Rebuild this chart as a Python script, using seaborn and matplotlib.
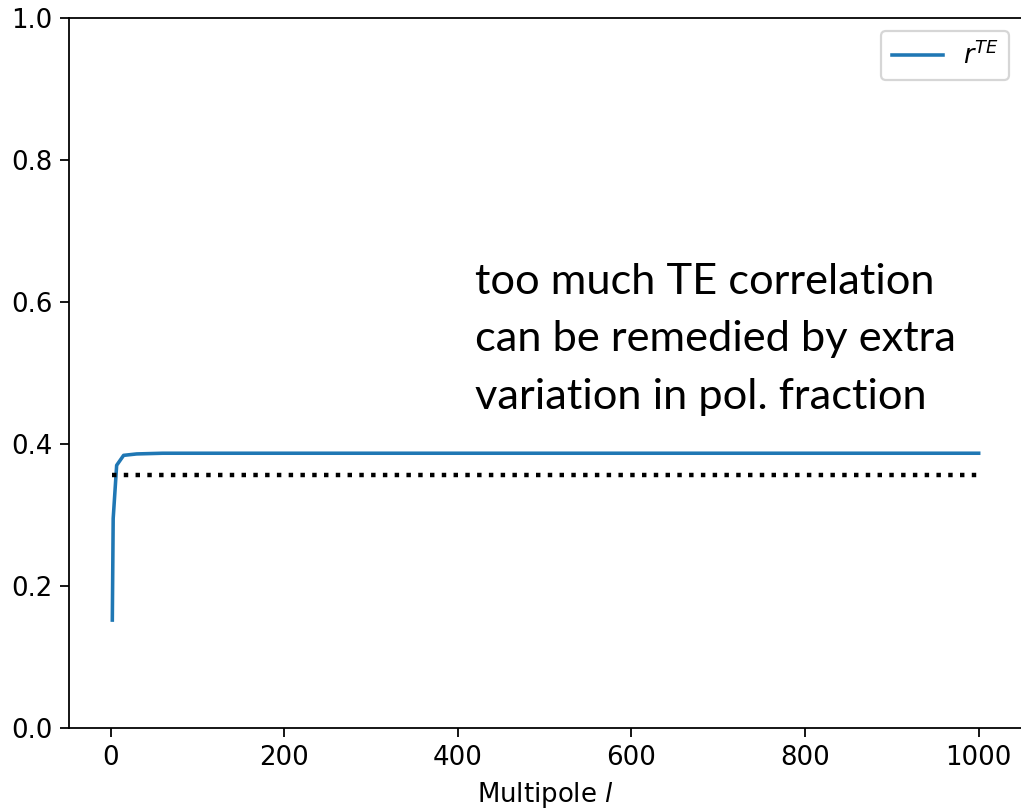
import numpy as np
import pandas as pd
import matplotlib
matplotlib.use("Agg")
import matplotlib.pyplot as plt
import seaborn as sns

# data
multipole = [2, 3, 7, 15, 30, 60, 100, 200, 400, 600, 800, 1000]
r_te = [0.152, 0.295, 0.370, 0.384, 0.386, 0.387, 0.387, 0.387, 0.387, 0.387, 0.387, 0.387]
ref_l = [2, 1000]
ref_level = [0.357, 0.357]

annotation = "too much TE correlation\ncan be remedied by extra\nvariation in pol. fraction"

df = pd.DataFrame({"l": multipole, "r": r_te})

plt.rcParams["font.family"] = ["DejaVu Sans"]
fig = plt.figure(figsize=(1021 / 160, 811 / 160), dpi=160)
ax = fig.add_axes([69 / 1021, 83 / 811, (1022 - 69) / 1021, (728 - 18) / 811])

sns.lineplot(data=df, x="l", y="r", ax=ax, color="#1f77b4", linewidth=1.6,
             label=r"$r^{TE}$")
ax.plot(ref_l, ref_level, color="black", linestyle=":", linewidth=2)

ax.set_ylim(0, 1)
ax.set_xlim(-47.9, 1049.9)
ax.set_xticks([0, 200, 400, 600, 800, 1000])
ax.set_yticks([0.0, 0.2, 0.4, 0.6, 0.8, 1.0])
ax.tick_params(labelsize=11.7, length=4)
ax.set_xlabel("Multipole $l$", fontsize=11.7)
ax.set_ylabel("")
ax.legend(loc="upper right", fontsize=11.5)

ax.text(420, 0.655, annotation, family=["Lato", "DejaVu Sans"], fontsize=19.5,
        va="top", ha="left", linespacing=1.63)

fig.savefig("out.png", dpi=160)
